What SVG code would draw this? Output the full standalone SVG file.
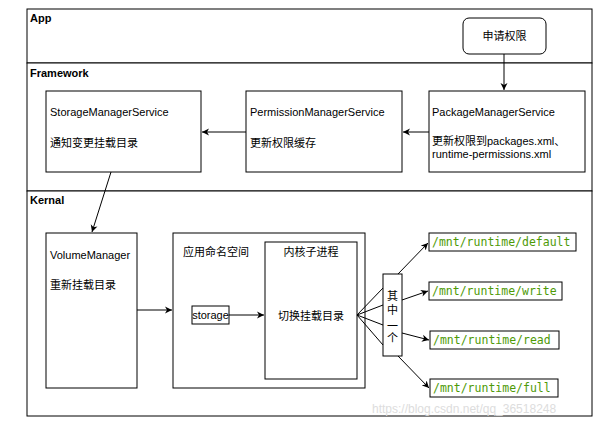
<svg xmlns="http://www.w3.org/2000/svg" width="600" height="427" viewBox="0 0 600 427">
<style>
.b{fill:#fff;stroke:#000;stroke-width:1}
.t{font-family:"Liberation Sans","Noto Sans CJK SC",sans-serif;font-size:11px;fill:#000}
.h{font-family:"Liberation Sans",sans-serif;font-size:11px;font-weight:bold;fill:#000}
.g{font-family:"DejaVu Sans Mono",monospace;font-size:11.5px;fill:#4e9a06}
.c{stroke:#000;stroke-width:1;fill:none}
</style>
<defs><marker id="a" markerWidth="8" markerHeight="8" refX="7" refY="4" orient="auto" markerUnits="userSpaceOnUse"><path d="M0,0.5 L7,4 L0,7.5 L2,4 Z" fill="#000"/></marker></defs>
<rect width="600" height="427" fill="#fff"/>
<g id="app"><rect class="b" x="27" y="9" width="565" height="54"/><text class="h" x="30" y="22">App</text></g>
<g id="framework"><rect class="b" x="27" y="63" width="565" height="128"/><text class="h" x="30" y="77">Framework</text></g>
<g id="kernal"><rect class="b" x="27" y="191" width="565" height="225"/><text class="h" x="30" y="204">Kernal</text></g>
<g id="req"><rect class="b" x="463" y="18" width="83" height="36" rx="6"/><text class="t" x="504.5" y="40" text-anchor="middle">申请权限</text></g>
<g id="sms"><rect class="b" x="46" y="91" width="155" height="81"/><text class="t" x="50" y="116">StorageManagerService</text><text class="t" x="50" y="147">通知变更挂载目录</text></g>
<g id="pms"><rect class="b" x="246" y="91" width="156" height="81"/><text class="t" x="250" y="116">PermissionManagerService</text><text class="t" x="250" y="147">更新权限缓存</text></g>
<g id="pkms"><rect class="b" x="429" y="91" width="156" height="81"/><text class="t" x="432" y="116">PackageManagerService</text><text class="t" x="432" y="145">更新权限到packages.xml、</text><text class="t" x="432" y="158">runtime-permissions.xml</text></g>
<g id="vm"><rect class="b" x="46" y="233" width="91" height="155"/><text class="t" x="50" y="259">VolumeManager</text><text class="t" x="50" y="289">重新挂载目录</text></g>
<g id="ns"><rect class="b" x="173" y="233" width="192" height="155"/><text class="t" x="183" y="256">应用命名空间</text></g>
<g id="proc"><rect class="b" x="265" y="242" width="92" height="137"/><text class="t" x="311" y="256" text-anchor="middle">内核子进程</text><text class="t" x="311" y="320" text-anchor="middle">切换挂载目录</text></g>
<g id="storage"><rect class="b" x="192" y="306" width="37" height="18"/><text class="t" x="210.5" y="319" text-anchor="middle" font-size="10">storage</text></g>
<g id="one"><rect class="b" x="383" y="274" width="19" height="82"/><text class="t" x="392.5" y="300" text-anchor="middle">其</text><text class="t" x="392.5" y="314" text-anchor="middle">中</text><text class="t" x="392.5" y="330" text-anchor="middle">一</text><text class="t" x="392.5" y="342" text-anchor="middle">个</text></g>
<g id="p1"><rect class="b" x="429" y="233" width="147" height="18"/><text class="g" x="432" y="246">/mnt/runtime/default</text></g>
<g id="p2"><rect class="b" x="429" y="282" width="133" height="18"/><text class="g" x="432" y="295">/mnt/runtime/write</text></g>
<g id="p3"><rect class="b" x="430" y="331" width="129" height="18"/><text class="g" x="433" y="344">/mnt/runtime/read</text></g>
<g id="p4"><rect class="b" x="430" y="379" width="128" height="18"/><text class="g" x="433" y="392">/mnt/runtime/full</text></g>
<g id="connectors">
<line class="c" x1="504" y1="54" x2="504" y2="90" marker-end="url(#a)"/>
<line class="c" x1="429" y1="132" x2="403" y2="132" marker-end="url(#a)"/>
<line class="c" x1="246" y1="132" x2="202" y2="132" marker-end="url(#a)"/>
<line class="c" x1="111" y1="172" x2="92" y2="232" marker-end="url(#a)"/>
<line class="c" x1="137" y1="310" x2="172" y2="310" marker-end="url(#a)"/>
<line class="c" x1="229" y1="315" x2="264" y2="315" marker-end="url(#a)"/>
<line class="c" x1="357" y1="315" x2="383" y2="288"/>
<line class="c" x1="357" y1="315" x2="383" y2="305"/>
<line class="c" x1="357" y1="315" x2="383" y2="325"/>
<line class="c" x1="357" y1="315" x2="383" y2="345"/>
<line class="c" x1="398" y1="274" x2="428" y2="243" marker-end="url(#a)"/>
<line class="c" x1="402" y1="300" x2="428" y2="291" marker-end="url(#a)"/>
<line class="c" x1="402" y1="333" x2="429" y2="340" marker-end="url(#a)"/>
<line class="c" x1="398" y1="356" x2="429" y2="388" marker-end="url(#a)"/>
</g>
<text x="372" y="413" font-family="Liberation Sans,sans-serif" font-size="12" fill="#ddd">https://blog.csdn.net/qq_36518248</text>
</svg>
